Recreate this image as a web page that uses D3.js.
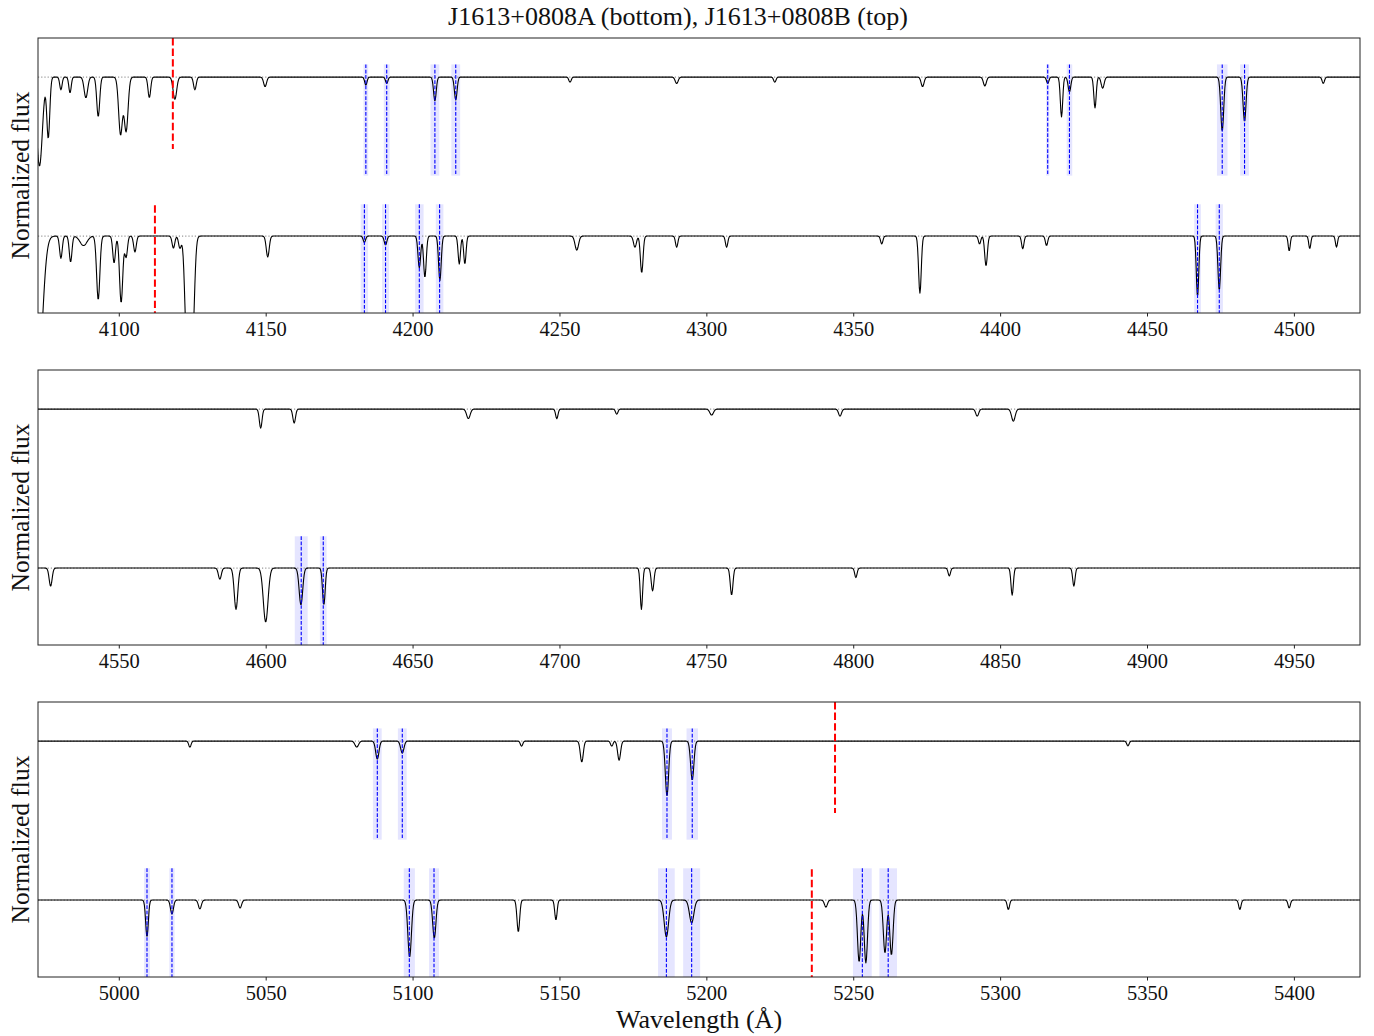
<!DOCTYPE html>
<html>
<head>
<meta charset="utf-8">
<script src="https://cdn.jsdelivr.net/npm/d3@7"></script>
<style>
  body { margin: 0; background: #fff; }
  text { font-family: "Liberation Serif", "Times New Roman", serif; fill: #111; }
</style>
</head>
<body>
<svg id="fig" width="1374" height="1036"></svg>
<script>
// wavelength window of each panel (Angstrom)
var ranges = [[4072.5, 4522.5], [4522.5, 4972.5], [4972.5, 5422.5]];
var tickLabels = [
  [4100, 4150, 4200, 4250, 4300, 4350, 4400, 4450, 4500],
  [4550, 4600, 4650, 4700, 4750, 4800, 4850, 4900, 4950],
  [5000, 5050, 5100, 5150, 5200, 5250, 5300, 5350, 5400]
];

// continuum levels (A is plotted at 1, B offset above it)
var contA = 1.0;
var contB = 1.5;
var yDomain = [0.758, 1.623];

// absorption lines: [wavelength, depth, width]
var linesB = [
  [4073.0, 0.28, 1.0], [4076.0, 0.19, 0.5], [4080.3, 0.04, 0.4], [4083.4, 0.05, 0.4],
  [4088.8, 0.065, 0.6], [4093.0, 0.125, 0.5], [4100.6, 0.18, 0.65], [4102.5, 0.17, 0.65],
  [4110.4, 0.065, 0.45], [4119.1, 0.07, 0.6], [4125.9, 0.04, 0.45], [4149.8, 0.03, 0.5],
  [4184.1, 0.025, 0.4], [4191.2, 0.02, 0.4], [4207.6, 0.075, 0.45], [4214.7, 0.072, 0.45],
  [4253.6, 0.016, 0.4], [4289.9, 0.02, 0.5], [4323.3, 0.016, 0.4], [4373.6, 0.03, 0.5],
  [4394.8, 0.028, 0.5], [4416.2, 0.02, 0.4], [4420.9, 0.125, 0.4], [4423.6, 0.047, 0.45],
  [4432.3, 0.097, 0.4], [4434.9, 0.035, 0.5], [4475.6, 0.17, 0.5], [4483.2, 0.14, 0.5],
  [4510.0, 0.02, 0.4],
  [4598.3, 0.06, 0.45], [4609.7, 0.044, 0.45], [4669.0, 0.03, 0.6], [4699.1, 0.03, 0.4],
  [4719.5, 0.016, 0.4], [4751.8, 0.019, 0.6], [4795.5, 0.022, 0.5], [4842.2, 0.022, 0.5],
  [4854.5, 0.038, 0.6],
  [5024.2, 0.019, 0.4], [5081.0, 0.019, 0.6], [5088.0, 0.057, 0.55], [5096.5, 0.038, 0.55],
  [5137.1, 0.016, 0.4], [5157.6, 0.066, 0.5], [5167.8, 0.016, 0.4], [5170.3, 0.06, 0.5],
  [5186.6, 0.173, 0.55], [5195.2, 0.123, 0.55], [5343.5, 0.015, 0.4]
];
var linesA = [
  [4072.5, 0.45, 1.5], [4080.3, 0.07, 0.45], [4083.6, 0.082, 0.45], [4088.0, 0.03, 1.2],
  [4093.0, 0.2, 0.55], [4098.4, 0.085, 0.45], [4100.8, 0.21, 0.55], [4102.5, 0.066, 0.45],
  [4105.5, 0.05, 0.45], [4118.6, 0.038, 0.45], [4120.8, 0.038, 0.45], [4123.2, 0.35, 0.7],
  [4125.0, 0.35, 0.7], [4150.7, 0.066, 0.5], [4183.6, 0.02, 0.4], [4190.8, 0.028, 0.45],
  [4202.3, 0.1, 0.45], [4204.2, 0.13, 0.45], [4209.3, 0.14, 0.45], [4215.9, 0.088, 0.4],
  [4217.8, 0.088, 0.4], [4255.9, 0.044, 0.6], [4275.7, 0.035, 0.5], [4278.0, 0.116, 0.45],
  [4289.9, 0.035, 0.4], [4306.9, 0.035, 0.4], [4359.7, 0.025, 0.4], [4372.7, 0.18, 0.45],
  [4393.0, 0.025, 0.4], [4395.2, 0.094, 0.45], [4407.7, 0.04, 0.4], [4415.8, 0.03, 0.4],
  [4467.2, 0.19, 0.42], [4474.6, 0.17, 0.45], [4498.4, 0.047, 0.35], [4505.4, 0.04, 0.35],
  [4514.5, 0.035, 0.35],
  [4526.8, 0.057, 0.5], [4584.4, 0.035, 0.5], [4589.9, 0.13, 0.6], [4600.0, 0.17, 0.8],
  [4612.0, 0.116, 0.6], [4619.8, 0.116, 0.45], [4727.9, 0.13, 0.4], [4731.7, 0.072, 0.45],
  [4758.6, 0.085, 0.45], [4800.9, 0.03, 0.4], [4832.7, 0.025, 0.4], [4854.1, 0.085, 0.4],
  [4875.1, 0.057, 0.4],
  [5009.6, 0.116, 0.45], [5018.1, 0.044, 0.5], [5027.6, 0.028, 0.5], [5041.3, 0.025, 0.5],
  [5099.0, 0.18, 0.6], [5107.4, 0.12, 0.55], [5136.0, 0.1, 0.45], [5148.8, 0.063, 0.4],
  [5186.4, 0.116, 0.75], [5195.0, 0.072, 0.75], [5240.7, 0.022, 0.5], [5252.0, 0.195, 0.55],
  [5254.3, 0.198, 0.55], [5260.8, 0.167, 0.55], [5263.0, 0.173, 0.55], [5302.8, 0.03, 0.4],
  [5381.6, 0.03, 0.4], [5398.4, 0.025, 0.4]
];

// fitted line windows: [centre, half width]
var bandsB = [
  [4184.1, 0.8], [4191.2, 1.0], [4207.6, 1.5], [4214.7, 1.5], [4416.2, 0.55], [4423.6, 0.95],
  [4475.6, 1.8], [4483.2, 1.5],
  [5088.0, 1.5], [5096.5, 1.5], [5186.6, 1.7], [5195.2, 1.95]
];
var bandsA = [
  [4183.6, 1.25], [4190.8, 1.2], [4202.3, 1.45], [4209.2, 1.3], [4467.2, 1.15], [4474.6, 1.25],
  [4612.1, 2.2], [4619.6, 1.15],
  [5009.6, 1.0], [5018.1, 0.9], [5098.9, 1.9], [5107.3, 1.7], [5186.4, 2.85], [5195.0, 2.9],
  [5253.1, 3.2], [5261.9, 3.0]
];
var bandSpanB = [1.19, 1.54];
var bandSpanA = [0.70, 1.10];

// red markers
var redB = [4118.4, 5243.8];
var redA = [4112.3, 5235.9];
var redSpanB = [1.274, 1.623];
var redSpanA = [0.70, 1.097];

var panelTop = [38, 370, 702];
var left = 38, pw = 1322, ph = 275;

function flux(l, lines, cont) {
  var f = cont;
  lines.forEach(function(d) {
    var t = (l - d[0]) / d[2];
    if (Math.abs(t) < 6) f -= d[1] * Math.exp(-0.5 * t * t);
  });
  return f;
}

var svg = d3.select("#fig");

svg.append("text")
  .attr("x", 678).attr("y", 25)
  .attr("text-anchor", "middle")
  .attr("font-size", 26)
  .text("J1613+0808A (bottom), J1613+0808B (top)");

ranges.forEach(function(dom, i) {
  var top = panelTop[i];
  var x = d3.scaleLinear().domain(dom).range([0, pw]);
  var y = d3.scaleLinear().domain(yDomain).range([ph, 0]);
  var inRange = function(d) { return d[0] + d[1] > dom[0] && d[0] - d[1] < dom[1]; };

  var g = svg.append("g").attr("transform", "translate(" + left + "," + top + ")");
  g.append("clipPath").attr("id", "clip" + i)
    .append("rect").attr("width", pw).attr("height", ph);
  var inner = g.append("g").attr("clip-path", "url(#clip" + i + ")");

  // shaded windows
  [[bandsB, bandSpanB], [bandsA, bandSpanA]].forEach(function(set) {
    inner.selectAll(null)
      .data(set[0].filter(inRange))
      .enter().append("rect")
      .attr("x", function(d) { return x(d[0] - d[1]); })
      .attr("width", function(d) { return x(d[0] + d[1]) - x(d[0] - d[1]); })
      .attr("y", y(set[1][1]))
      .attr("height", y(set[1][0]) - y(set[1][1]))
      .attr("fill", "rgba(0,0,255,0.1)");
  });

  // continuum guides
  [contA, contB].forEach(function(c) {
    inner.append("line")
      .attr("x1", 0).attr("x2", pw)
      .attr("y1", y(c)).attr("y2", y(c))
      .attr("stroke", "#999").attr("stroke-width", 1.2)
      .attr("stroke-dasharray", "1.2,2");
  });

  // spectra
  var line = d3.line().x(function(d) { return x(d[0]); }).y(function(d) { return y(d[1]); });
  [[linesB, contB], [linesA, contA]].forEach(function(s) {
    var pts = d3.range(dom[0] - 1, dom[1] + 1, 0.2).map(function(l) {
      return [l, flux(l, s[0], s[1])];
    });
    inner.append("path")
      .attr("d", line(pts))
      .attr("fill", "none")
      .attr("stroke", "#000")
      .attr("stroke-width", 1.1)
      .attr("stroke-linejoin", "round");
  });

  // line centres
  [[bandsB, bandSpanB], [bandsA, bandSpanA]].forEach(function(set) {
    inner.selectAll(null)
      .data(set[0].filter(function(d) { return d[0] > dom[0] && d[0] < dom[1]; }))
      .enter().append("line")
      .attr("x1", function(d) { return x(d[0]); })
      .attr("x2", function(d) { return x(d[0]); })
      .attr("y1", y(set[1][1])).attr("y2", y(set[1][0]))
      .attr("stroke", "blue").attr("stroke-width", 1.1)
      .attr("stroke-dasharray", "3.7,1.6");
  });

  [[redB, redSpanB], [redA, redSpanA]].forEach(function(set) {
    inner.selectAll(null)
      .data(set[0].filter(function(v) { return v > dom[0] && v < dom[1]; }))
      .enter().append("line")
      .attr("x1", function(v) { return x(v); })
      .attr("x2", function(v) { return x(v); })
      .attr("y1", y(set[1][1])).attr("y2", y(set[1][0]))
      .attr("stroke", "red").attr("stroke-width", 2)
      .attr("stroke-dasharray", "7.4,3.2");
  });

  // frame and axis
  g.append("rect").attr("width", pw).attr("height", ph)
    .attr("fill", "none").attr("stroke", "#222").attr("stroke-width", 1);

  var ax = g.append("g").attr("transform", "translate(0," + ph + ")")
    .call(d3.axisBottom(x).tickValues(tickLabels[i]).tickSize(3.5).tickPadding(5)
      .tickFormat(d3.format("d")));
  ax.select(".domain").remove();
  ax.selectAll(".tick line").attr("stroke", "#222");
  ax.selectAll(".tick text")
    .attr("font-size", 20.5)
    .attr("font-family", "Liberation Serif, serif")
    .attr("fill", "#222");

  svg.append("text")
    .attr("transform", "translate(29," + (top + ph / 2) + ") rotate(-90)")
    .attr("text-anchor", "middle")
    .attr("font-size", 25.5)
    .text("Normalized flux");
});

svg.append("text")
  .attr("x", 699).attr("y", 1028)
  .attr("text-anchor", "middle")
  .attr("font-size", 26)
  .text("Wavelength (\u00c5)");
</script>
</body>
</html>
